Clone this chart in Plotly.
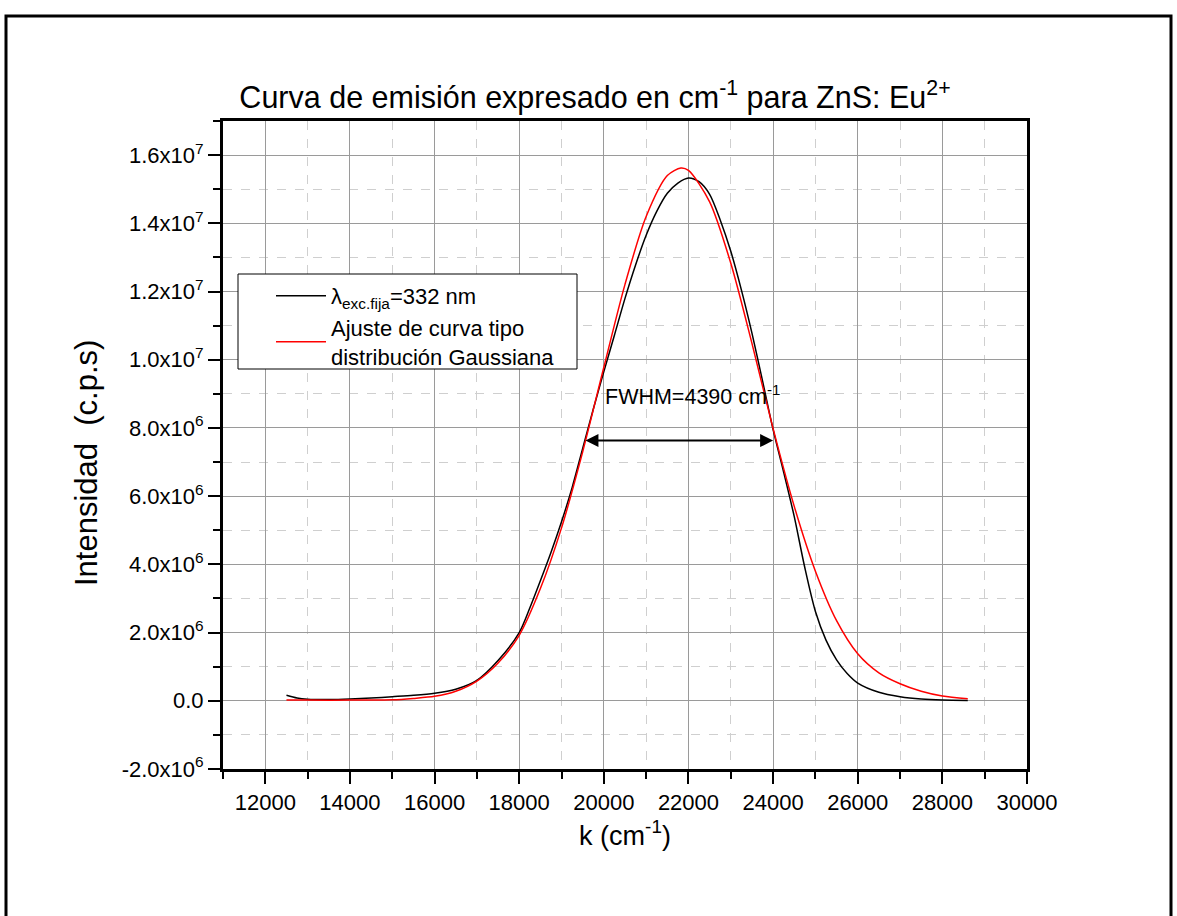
import plotly.graph_objects as go

# ---- data ----
k_exp = [12500, 12750, 13000, 13500, 14000, 14500, 15000, 15500, 16000, 16500, 17000, 17500,
         18000, 18250, 18500, 18750, 19000, 19250, 19500, 19750, 20000, 20250, 20500, 20750,
         21000, 21250, 21500, 21750, 22000, 22250, 22500, 22750, 23000, 23250, 23500, 23750,
         24000, 24250, 24500, 24750, 25000, 25250, 25500, 25750, 26000, 26500, 27000, 27500,
         28000, 28600]
i_exp = [0.16e6, 0.08e6, 0.045e6, 0.035e6, 0.05e6, 0.08e6, 0.12e6, 0.16e6, 0.22e6, 0.34e6, 0.60e6, 1.18e6,
         2.00e6, 2.72e6, 3.52e6, 4.35e6, 5.25e6, 6.25e6, 7.40e6, 8.55e6, 9.65e6, 10.72e6, 11.80e6, 12.78e6,
         13.65e6, 14.35e6, 14.88e6, 15.18e6, 15.33e6, 15.22e6, 14.85e6, 14.10e6, 13.18e6, 12.05e6, 10.78e6, 9.38e6,
         7.95e6, 6.70e6, 5.40e6, 3.90e6, 2.62e6, 1.78e6, 1.20e6, 0.80e6, 0.52e6, 0.25e6, 0.12e6, 0.05e6,
         0.02e6, 0.01e6]

k_fit = [12500, 13000, 14000, 15000, 15500, 16000, 16500, 17000, 17500, 18000, 18500, 19000,
         19500, 20000, 20500, 21000, 21500, 21820, 22000, 22500, 23000, 23500, 24000, 24500,
         25000, 25500, 26000, 26500, 27000, 27500, 28000, 28600]
i_fit = [0.02e6, 0.02e6, 0.02e6, 0.03e6, 0.07e6, 0.13e6, 0.28e6, 0.58e6, 1.11e6, 1.92e6, 3.29e6, 5.07e6,
         7.30e6, 9.78e6, 12.21e6, 14.20e6, 15.40e6, 15.62e6, 15.55e6, 14.63e6, 12.83e6, 10.48e6, 7.98e6, 5.70e6,
         3.80e6, 2.35e6, 1.38e6, 0.82e6, 0.50e6, 0.28e6, 0.14e6, 0.06e6]

x_tickvals = [12000, 14000, 16000, 18000, 20000, 22000, 24000, 26000, 28000, 30000]
x_ticktext = [str(v) for v in x_tickvals]
y_tickvals = [-2e6, 0, 2e6, 4e6, 6e6, 8e6, 10e6, 12e6, 14e6, 16e6]
y_ticktext = ["-2.0x10<sup>6</sup>", "0.0", "2.0x10<sup>6</sup>", "4.0x10<sup>6</sup>",
              "6.0x10<sup>6</sup>", "8.0x10<sup>6</sup>", "1.0x10<sup>7</sup>",
              "1.2x10<sup>7</sup>", "1.4x10<sup>7</sup>", "1.6x10<sup>7</sup>"]

fwhm_left, fwhm_right, fwhm_level = 19530, 24000, 7.63e6
fwhm_label = "FWHM=4390 cm<sup>-1</sup>"
y_title = "Intensidad&nbsp; (c.p.s)"

FONT = "Liberation Sans, Arial, sans-serif"

fig = go.Figure()
fig.add_trace(go.Scatter(x=k_exp, y=i_exp, mode="lines",
                         line=dict(color="black", width=1.5, shape="spline", smoothing=0.8),
                         name="λ<sub>exc.fija</sub>=332 nm"))
fig.add_trace(go.Scatter(x=k_fit, y=i_fit, mode="lines",
                         line=dict(color="#ff0000", width=1.5, shape="spline", smoothing=0.8),
                         name="Ajuste de curva tipo<br>distribución Gaussiana"))

W, H = 1177, 916
L, R, T, B = 223, 150, 121, 147
pw, ph = W - L - R, H - T - B

def px_to_paper_x(px):
    return (px - L) / pw

def px_to_paper_y(py):
    return (H - B - py) / ph

axis_common = dict(showline=True, linewidth=3, linecolor="black", mirror=True,
                   ticks="outside", ticklen=12, tickwidth=2, tickcolor="black",
                   showgrid=True, gridcolor="#9a9a9a", gridwidth=1, zeroline=False,
                   tickfont=dict(family=FONT, size=22, color="black"))

fig.update_layout(
    width=W, height=H,
    margin=dict(l=L, r=R, t=T, b=B),
    paper_bgcolor="white", plot_bgcolor="white",
    title=dict(text="Curva de emisión expresado en cm<sup>-1</sup> para ZnS: Eu<sup>2+</sup>",
               x=595 / W, xanchor="center", y=1 - 97 / H, yanchor="middle",
               font=dict(family=FONT, size=30.5, color="black")),
    xaxis=dict(range=[11000, 30000], tickvals=x_tickvals, ticktext=x_ticktext,
               title=dict(text="k (cm<sup>-1</sup>)", font=dict(family=FONT, size=27, color="black"), standoff=12),
               minor=dict(tick0=11000, dtick=1000, ticks="outside", ticklen=7, tickwidth=2, tickcolor="black",
                          showgrid=True, gridcolor="#cfcfcf", griddash="dash", gridwidth=1),
               **axis_common),
    yaxis=dict(range=[-2e6, 17e6], tickvals=y_tickvals, ticktext=y_ticktext,
               minor=dict(tick0=-2e6, dtick=1e6, ticks="outside", ticklen=7, tickwidth=2, tickcolor="black",
                          showgrid=True, gridcolor="#cfcfcf", griddash="dash", gridwidth=1),
               **axis_common),
    legend=dict(x=px_to_paper_x(271), y=px_to_paper_y(275), xanchor="left", yanchor="top",
                bgcolor="rgba(0,0,0,0)", borderwidth=0,
                font=dict(family=FONT, size=22, color="black"), tracegroupgap=0, itemwidth=50),
    showlegend=True,
)

# y-axis title placed as a rotated annotation
fig.add_annotation(x=px_to_paper_x(86), y=px_to_paper_y(463), xref="paper", yref="paper",
                   text=y_title, textangle=-90, showarrow=False, xanchor="center", yanchor="middle",
                   font=dict(family=FONT, size=31, color="black"))

# legend frame (white box with black border behind the legend entries)
fig.add_shape(type="rect", xref="paper", yref="paper",
              x0=px_to_paper_x(238), x1=px_to_paper_x(577), y0=px_to_paper_y(369), y1=px_to_paper_y(274),
              line=dict(color="black", width=1), fillcolor="white", layer="above")

fig.add_annotation(x=fwhm_right, y=fwhm_level, ax=fwhm_left, ay=fwhm_level, xref="x", yref="y",
                   axref="x", ayref="y", text="", showarrow=True, arrowhead=2, startarrowhead=2,
                   arrowside="end+start", arrowsize=1.3, startarrowsize=1.3, arrowwidth=2, arrowcolor="black")
fig.add_annotation(x=22100, y=8.98e6, xref="x", yref="y", text=fwhm_label, showarrow=False,
                   font=dict(family=FONT, size=21.5, color="black"))

# outer frame
fig.add_shape(type="rect", xref="paper", yref="paper",
              x0=px_to_paper_x(6), x1=px_to_paper_x(1171), y0=px_to_paper_y(940), y1=px_to_paper_y(16),
              line=dict(color="black", width=3), layer="below")

fig.write_html("out.html")
